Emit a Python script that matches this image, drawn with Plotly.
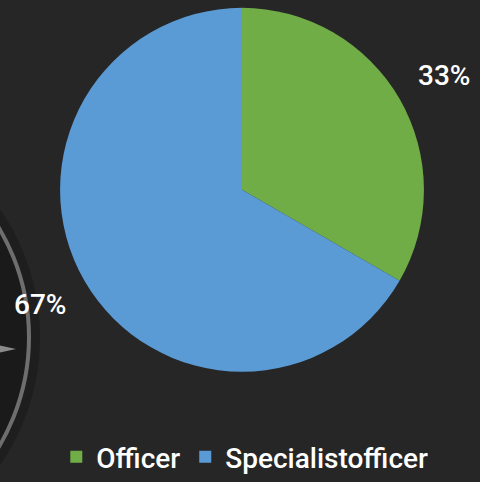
import math
import plotly.graph_objects as go

categories = ["Officer", "Specialistofficer"]
values = [1, 2]
colors = ["#70AD47", "#5B9BD5"]

W, H = 480, 482
BG = "#262626"

# pie geometry (pixels)
PCX, PCY, PR = 242, 193, 185

def px(x):
    return x / W

def py(y):
    return 1 - y / H

fig = go.Figure()
fig.add_trace(go.Pie(
    labels=categories,
    values=values,
    marker=dict(colors=colors, line=dict(width=0)),
    sort=False,
    direction="clockwise",
    rotation=0,
    textinfo="none",
    hoverinfo="label+percent",
    domain=dict(x=[px(PCX - PR), px(PCX + PR)], y=[py(PCY + PR), py(PCY - PR)]),
    hole=0,
))

# percent labels placed outside, at the slice mid-angles computed from data
total = sum(values)
annotations = []
cum = 0
for v in values:
    mid = (cum + v / 2) / total * 2 * math.pi
    cum += v
    r = PR * 1.26
    x = PCX + r * math.sin(mid)
    y = PCY - r * math.cos(mid)
    annotations.append(dict(
        x=px(x), y=py(y), xref="paper", yref="paper", showarrow=False,
        text=f"{round(v / total * 100)}%",
        font=dict(color="white", size=28, family="Roboto", weight=500),
        xanchor="center", yanchor="middle",
    ))

# decorative background dial (left side)
cx, cy = -192, 343
shapes = [
    dict(type="circle", xref="paper", yref="paper", layer="below",
         x0=px(cx - 232), x1=px(cx + 232), y0=py(cy + 232), y1=py(cy - 232),
         fillcolor="#1e1e1e", line=dict(width=0)),
    dict(type="circle", xref="paper", yref="paper", layer="below",
         x0=px(cx - 221), x1=px(cx + 221), y0=py(cy + 221), y1=py(cy - 221),
         fillcolor="#1a1a1a", line=dict(color="#6e6e6e", width=4)),
    dict(type="path", xref="paper", yref="paper", layer="below",
         path=f"M {px(-2)} {py(351)} L {px(16)} {py(355)} L {px(-2)} {py(359)} Z",
         fillcolor="#8a8a8a", line=dict(width=0)),
]

fig.update_layout(
    width=W, height=H,
    paper_bgcolor=BG,
    plot_bgcolor=BG,
    margin=dict(l=0, r=0, t=0, b=0),
    shapes=shapes,
    annotations=annotations,
    showlegend=True,
    legend=dict(orientation="h", x=0.51, xanchor="center", y=py(465), yanchor="middle",
                font=dict(color="white", size=28, family="Roboto", weight=500),
                bgcolor="rgba(0,0,0,0)", itemwidth=30),
)

fig.write_html(
    "out.html",
    config={"displayModeBar": False},
    post_script=(
        "document.body.style.margin='0';"
        "document.body.style.background='#262626';"
    ),
)
